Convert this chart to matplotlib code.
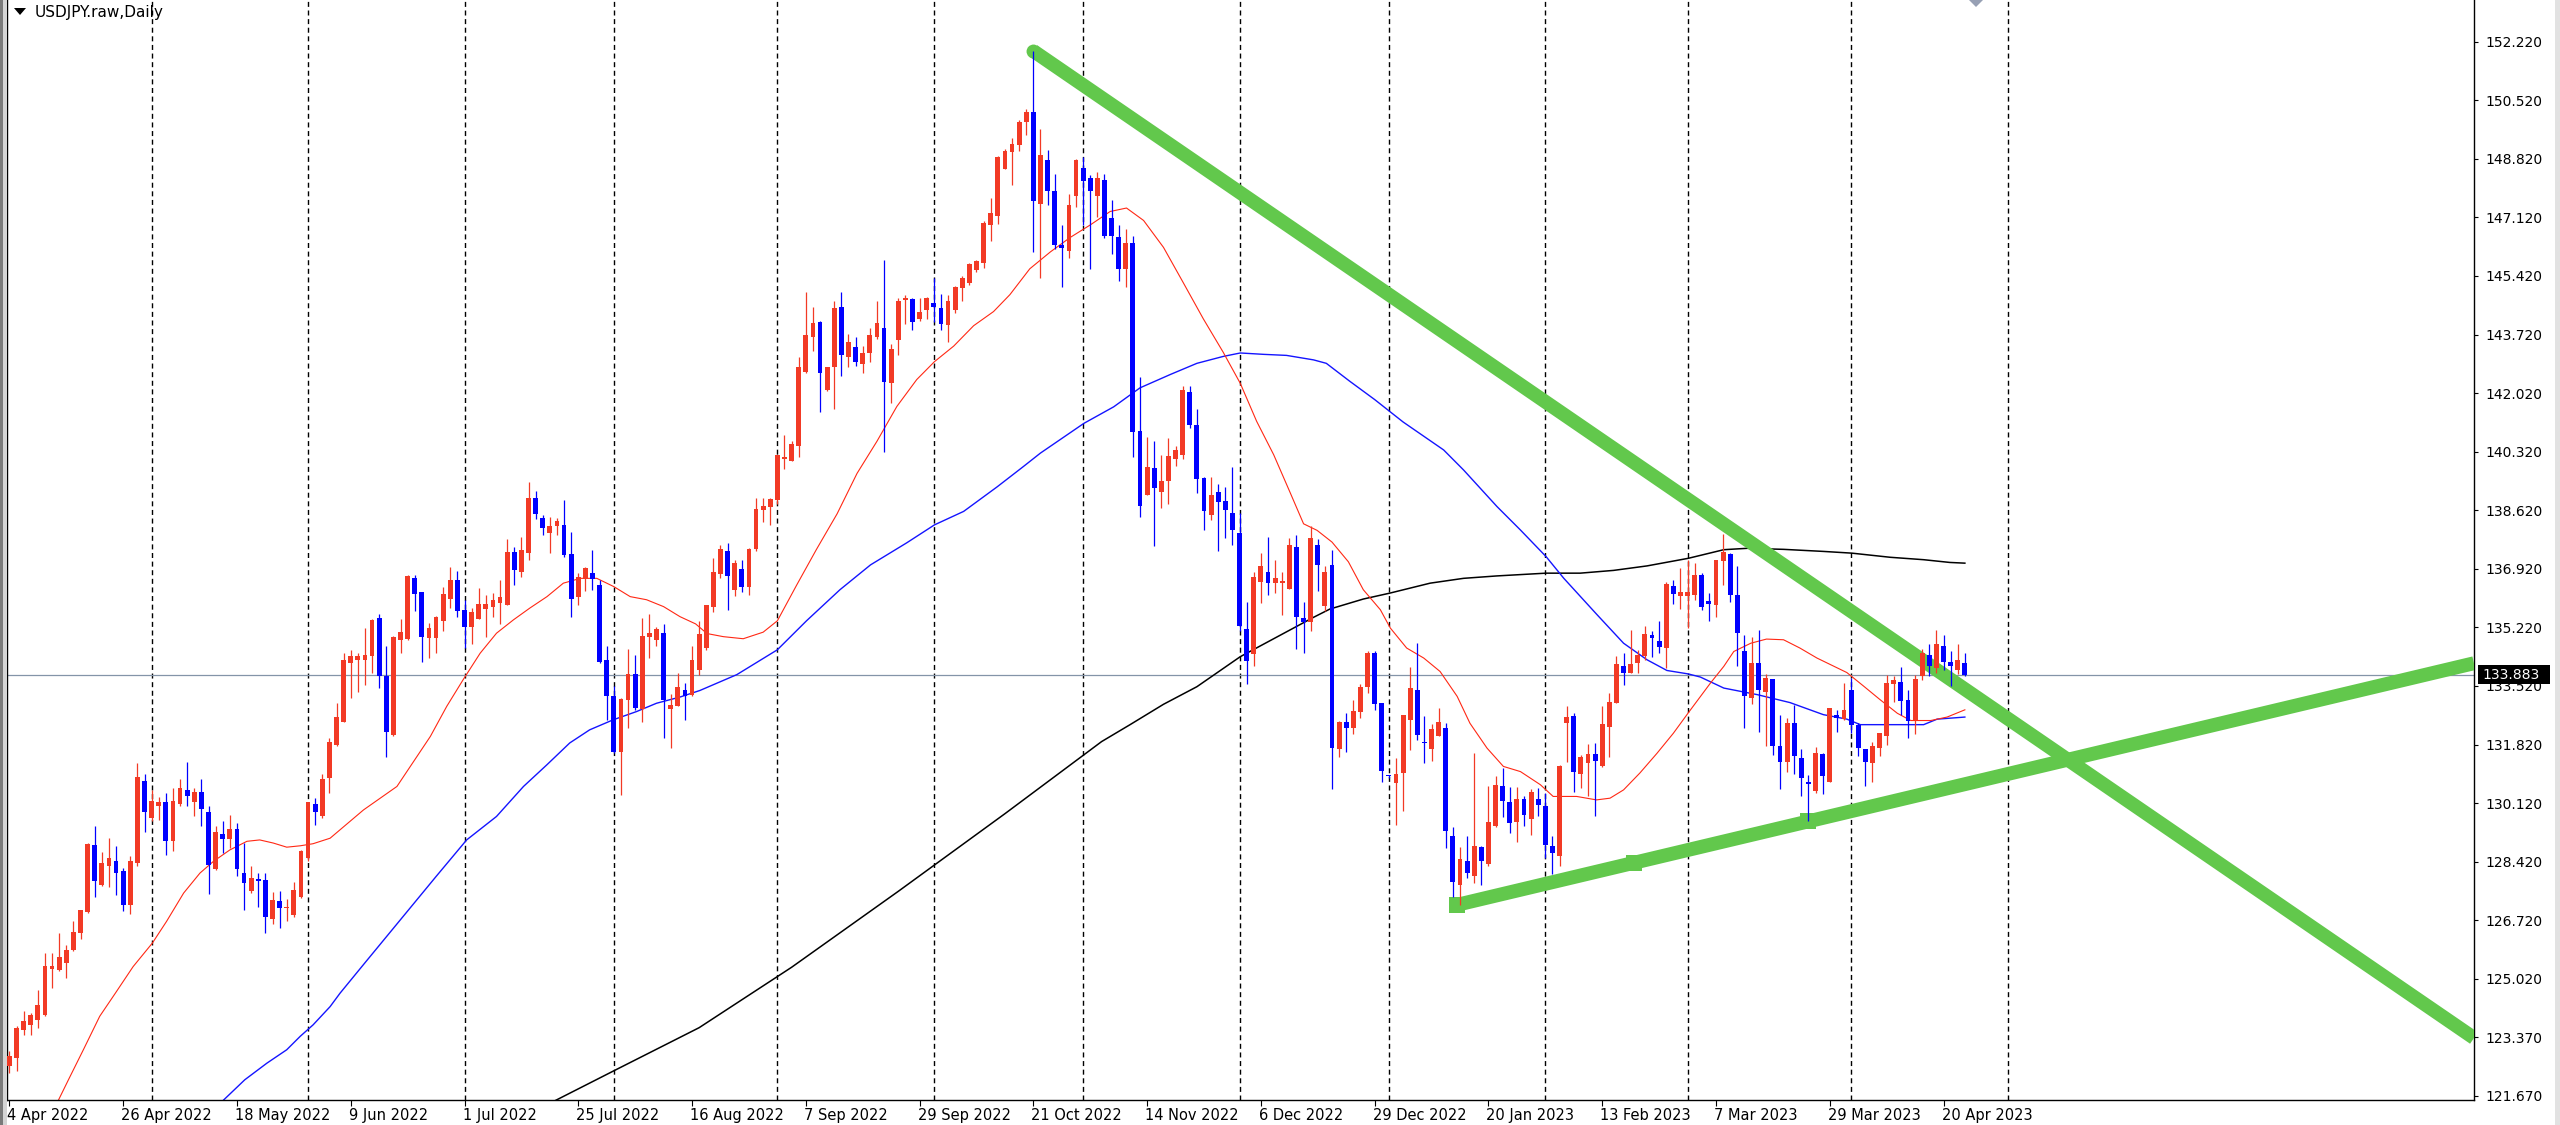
import numpy as np
import matplotlib.pyplot as plt
from matplotlib.patches import Rectangle, Polygon
from matplotlib.transforms import ScaledTranslation, blended_transform_factory

# USDJPY daily candles, 4 Apr 2022 -> 25 Apr 2023
opens = [
    122.53, 122.77, 123.59, 123.74, 123.88, 124.02, 125.35, 125.31, 125.52, 125.89,
    126.39, 126.99, 128.95, 127.79, 128.34, 128.49, 128.18, 127.21, 128.42, 130.81,
    129.72, 130.08, 130.18, 129.07, 130.14, 130.54, 130.18, 130.48, 129.91, 128.24,
    129.26, 129.11, 129.42, 128.13, 127.62, 127.96, 127.92, 126.80, 127.31, 127.11,
    126.92, 127.45, 128.56, 130.14, 129.79, 130.88, 131.85, 132.52, 134.21, 134.31,
    134.31, 134.41, 135.53, 133.85, 132.14, 134.89, 134.91, 136.67, 136.26, 134.94,
    134.94, 135.44, 136.07, 136.61, 135.74, 135.26, 135.49, 135.78, 135.85, 135.95,
    135.91, 137.43, 136.84, 137.40, 138.99, 138.41, 137.98, 138.19, 138.21, 137.38,
    136.12, 136.65, 136.82, 136.48, 134.29, 133.27, 131.63, 133.15, 133.89, 132.88,
    134.98, 134.89, 135.08, 132.88, 132.96, 133.42, 133.30, 134.00, 134.66, 135.83,
    136.80, 137.45, 136.34, 136.93, 136.41, 137.51, 138.65, 138.74, 138.93, 140.12,
    140.07, 140.51, 142.66, 143.66, 144.09, 142.13, 142.79, 144.54, 143.08, 143.36,
    142.88, 143.21, 143.66, 143.92, 142.33, 143.57, 144.74, 144.76, 144.18, 144.44,
    144.66, 144.50, 144.02, 144.44, 145.09, 145.22, 145.60, 145.80, 146.90, 147.16,
    148.54, 149.01, 149.23, 149.88, 150.18, 147.53, 148.78, 147.88, 146.33, 146.16,
    147.75, 148.56, 148.26, 147.75, 148.22, 147.10, 146.55, 145.64, 146.39, 140.94,
    139.09, 139.86, 139.16, 139.48, 140.13, 140.25, 142.06, 141.12, 139.57, 138.51,
    139.18, 138.90, 138.57, 137.99, 135.21, 134.48, 136.57, 136.85, 136.54, 136.54,
    136.37, 137.58, 135.51, 135.41, 137.63, 135.86, 137.05, 131.72, 132.52, 132.33,
    132.81, 133.52, 134.52, 133.07, 130.95, 130.74, 131.03, 132.57, 133.42, 131.94,
    131.72, 132.11, 132.33, 129.19, 127.79, 128.47, 128.05, 128.88, 128.40, 129.48,
    130.64, 130.18, 129.60, 130.27, 129.69, 130.27, 130.08, 128.92, 128.63, 132.47,
    132.69, 131.01, 131.32, 131.59, 131.24, 132.36, 133.07, 134.13, 133.94, 134.21,
    134.42, 135.03, 134.84, 134.65, 136.45, 136.16, 136.16, 136.19, 136.77, 136.00,
    135.90, 137.16, 137.38, 136.19, 134.55, 133.20, 134.23, 133.39, 133.75, 131.82,
    131.34, 132.49, 131.46, 130.78, 130.50, 131.59, 130.78, 132.72, 132.59, 133.42,
    132.43, 131.72, 131.32, 131.75, 132.11, 133.61, 133.68, 133.15, 132.57, 133.85,
    134.45, 134.07, 134.71, 134.26, 134.00, 134.23,
]
highs = [
    122.96, 123.69, 124.12, 124.07, 124.75, 125.81, 125.81, 126.39, 126.05, 126.73,
    127.05, 129.00, 129.48, 128.73, 129.16, 128.90, 128.27, 128.63, 131.33, 131.01,
    130.54, 130.33, 130.45, 130.59, 130.85, 131.36, 130.59, 130.85, 130.08, 129.50,
    129.65, 129.82, 129.58, 129.00, 128.32, 128.13, 128.13, 127.57, 127.60, 127.38,
    127.86, 128.80, 130.20, 130.30, 131.01, 132.04, 133.05, 134.50, 134.60, 134.50,
    135.23, 135.50, 135.64, 134.71, 134.99, 135.49, 136.77, 136.77, 136.26, 135.39,
    135.58, 136.41, 137.01, 136.87, 136.05, 135.81, 136.40, 136.18, 136.24, 136.61,
    137.80, 137.57, 137.88, 139.45, 139.19, 138.51, 138.44, 138.41, 138.94, 138.00,
    136.82, 137.01, 137.50, 136.63, 134.70, 133.56, 133.20, 134.62, 134.45, 135.52,
    135.64, 135.26, 135.35, 133.32, 133.92, 133.63, 134.70, 135.44, 135.89, 137.25,
    137.64, 137.70, 137.19, 137.19, 137.54, 139.00, 139.00, 139.00, 140.23, 140.81,
    140.64, 143.08, 144.98, 144.54, 144.14, 142.79, 144.70, 144.98, 143.74, 143.66,
    143.40, 143.92, 144.70, 145.89, 143.47, 144.79, 144.89, 144.80, 144.80, 144.83,
    145.38, 144.92, 144.89, 145.15, 145.44, 145.80, 145.90, 147.03, 147.70, 148.91,
    149.10, 149.43, 149.94, 150.27, 151.95, 149.69, 149.08, 148.39, 146.91, 147.81,
    148.82, 148.87, 148.35, 148.43, 148.39, 147.62, 146.91, 146.78, 146.58, 142.49,
    140.77, 140.64, 140.25, 140.73, 140.51, 142.23, 142.23, 141.58, 139.61, 139.61,
    139.39, 139.31, 139.90, 138.57, 135.99, 136.85, 137.41, 137.86, 137.21, 136.85,
    137.84, 137.93, 135.99, 138.19, 137.80, 137.02, 137.50, 132.55, 132.78, 133.15,
    133.61, 134.55, 134.55, 133.07, 130.98, 131.46, 132.72, 134.10, 134.81, 132.69,
    132.45, 132.91, 132.49, 129.46, 128.88, 129.19, 131.62, 128.92, 130.64, 130.95,
    131.17, 130.62, 130.62, 130.37, 130.56, 130.59, 130.45, 129.19, 131.27, 132.96,
    132.76, 131.56, 131.87, 131.91, 132.96, 133.36, 134.41, 134.52, 135.18, 134.58,
    135.28, 135.13, 135.42, 136.55, 136.61, 136.96, 137.20, 137.11, 136.82, 136.24,
    137.20, 137.96, 137.40, 137.03, 135.03, 134.97, 135.16, 133.90, 133.75, 132.72,
    132.62, 133.00, 131.72, 130.98, 131.78, 131.62, 132.91, 132.86, 133.63, 133.78,
    132.47, 131.72, 131.94, 132.18, 133.87, 133.83, 134.10, 133.42, 133.87, 134.62,
    134.76, 135.16, 135.03, 134.55, 134.76, 134.50,
]
lows = [
    122.33, 122.38, 123.45, 123.45, 123.64, 124.00, 124.80, 125.28, 125.09, 125.86,
    126.22, 126.97, 127.45, 127.76, 127.72, 127.50, 127.02, 126.95, 128.34, 129.31,
    129.63, 129.67, 128.66, 128.76, 130.06, 130.08, 129.79, 129.48, 127.52, 128.22,
    128.70, 128.85, 128.05, 127.07, 127.55, 127.16, 126.39, 126.66, 126.54, 126.73,
    126.87, 127.40, 128.47, 129.53, 129.72, 130.45, 131.80, 132.50, 133.20, 133.39,
    133.58, 133.92, 133.49, 131.48, 132.10, 134.52, 134.88, 135.71, 134.26, 134.36,
    134.52, 135.13, 135.81, 135.56, 134.65, 134.77, 135.49, 134.98, 135.56, 135.34,
    135.91, 136.48, 136.70, 137.19, 138.38, 137.93, 137.40, 137.93, 137.30, 135.56,
    135.90, 136.29, 136.34, 134.21, 132.57, 131.61, 130.40, 132.33, 132.86, 132.52,
    134.36, 134.70, 132.04, 131.75, 132.96, 132.57, 133.27, 133.88, 134.60, 135.70,
    136.67, 135.76, 136.15, 136.28, 136.19, 137.45, 138.29, 138.22, 138.81, 139.84,
    140.07, 140.20, 142.63, 143.27, 141.49, 142.11, 141.59, 142.52, 142.79, 142.82,
    142.63, 142.95, 143.60, 140.32, 141.76, 143.14, 144.05, 143.88, 144.14, 144.18,
    144.11, 143.88, 143.51, 144.37, 144.70, 145.18, 145.54, 145.67, 146.45, 146.94,
    148.52, 148.07, 149.06, 149.53, 146.12, 145.38, 147.49, 146.20, 145.10, 145.94,
    147.42, 146.91, 145.64, 147.14, 146.52, 146.07, 145.29, 145.12, 140.19, 138.44,
    139.09, 137.60, 138.70, 138.83, 139.93, 140.13, 141.03, 139.13, 138.06, 138.35,
    137.47, 137.84, 137.63, 135.15, 133.60, 134.12, 135.95, 136.18, 136.25, 135.60,
    136.37, 134.63, 134.50, 135.15, 136.29, 135.73, 130.56, 131.49, 131.65, 132.17,
    132.62, 133.34, 132.86, 130.76, 130.88, 129.53, 129.94, 131.70, 131.99, 131.33,
    131.39, 132.09, 128.85, 127.45, 127.21, 127.98, 127.84, 127.79, 128.34, 129.46,
    129.75, 129.29, 129.02, 129.50, 129.24, 129.77, 128.56, 128.11, 128.34, 131.36,
    130.49, 130.59, 130.35, 129.79, 131.20, 131.49, 133.07, 133.58, 133.92, 133.92,
    134.31, 134.39, 134.52, 134.07, 135.93, 135.78, 135.23, 136.03, 135.76, 135.42,
    135.56, 136.48, 135.97, 134.12, 132.33, 133.03, 132.23, 131.80, 131.56, 130.56,
    131.05, 131.00, 130.37, 129.65, 130.45, 130.43, 130.78, 132.23, 132.57, 132.19,
    131.53, 130.66, 130.78, 131.53, 131.85, 133.10, 132.71, 132.04, 132.17, 133.73,
    133.85, 133.94, 134.00, 133.54, 133.90, 133.85,
]
closes = [
    122.82, 123.64, 123.83, 124.02, 124.31, 125.44, 125.44, 125.70, 125.91, 126.41,
    127.05, 128.97, 127.89, 128.42, 128.56, 128.13, 127.21, 128.47, 130.91, 129.90,
    130.23, 130.18, 129.07, 130.23, 130.59, 130.35, 130.48, 129.98, 128.37, 129.31,
    129.11, 129.42, 128.24, 127.84, 127.98, 127.89, 126.85, 127.36, 127.11, 127.16,
    127.65, 128.76, 130.18, 129.89, 130.85, 131.94, 132.64, 134.31, 134.41, 134.41,
    134.45, 135.47, 133.85, 132.23, 134.97, 135.12, 136.74, 136.22, 134.98, 135.23,
    135.55, 136.21, 136.61, 135.71, 135.26, 135.68, 135.93, 135.93, 136.03, 136.14,
    137.43, 136.90, 137.48, 138.99, 138.54, 138.12, 138.19, 138.32, 137.35, 136.07,
    136.70, 136.96, 136.65, 134.26, 133.25, 131.63, 133.18, 133.89, 132.91, 135.00,
    135.08, 135.20, 133.15, 133.00, 133.52, 133.27, 134.31, 135.05, 135.89, 136.86,
    137.51, 136.73, 137.12, 136.41, 137.51, 138.68, 138.78, 138.96, 140.23, 140.20,
    140.55, 142.79, 143.73, 144.08, 142.63, 142.79, 144.50, 143.14, 143.51, 142.95,
    143.21, 143.73, 144.08, 142.37, 143.31, 144.72, 144.80, 144.11, 144.40, 144.79,
    144.53, 144.05, 144.72, 145.11, 145.38, 145.77, 145.86, 146.96, 147.25, 148.88,
    149.06, 149.26, 149.90, 150.18, 147.61, 148.95, 147.88, 146.33, 146.24, 147.49,
    148.78, 148.17, 147.88, 148.26, 146.58, 146.58, 145.64, 146.39, 140.90, 138.77,
    139.90, 139.28, 139.48, 140.21, 140.38, 142.13, 141.12, 139.54, 138.61, 139.09,
    138.87, 138.64, 138.06, 135.28, 134.27, 136.72, 137.02, 136.54, 136.67, 136.57,
    137.63, 135.56, 135.41, 137.84, 137.06, 136.85, 131.75, 132.52, 132.33, 132.84,
    133.52, 134.52, 133.03, 131.10, 130.94, 131.01, 132.72, 133.49, 132.14, 131.89,
    132.30, 132.52, 129.34, 127.86, 128.53, 128.13, 128.92, 128.47, 129.60, 130.69,
    130.21, 129.58, 130.27, 129.82, 130.49, 130.11, 128.95, 128.71, 131.22, 132.65,
    131.07, 131.49, 131.59, 131.39, 132.45, 133.10, 134.19, 133.94, 134.19, 134.45,
    135.06, 134.94, 134.68, 136.51, 136.22, 136.26, 136.26, 136.77, 135.85, 135.93,
    137.20, 137.42, 136.19, 135.08, 133.25, 134.23, 133.44, 133.78, 131.80, 131.34,
    132.49, 131.53, 130.88, 130.72, 131.62, 130.93, 132.91, 132.62, 132.86, 132.43,
    131.75, 131.34, 131.82, 132.18, 133.63, 133.73, 133.13, 132.55, 133.75, 134.50,
    134.12, 134.76, 134.26, 134.12, 134.29, 133.88,
]
last_price = 133.883

# moving averages (bar index, price)
fast_bars = [6.8, 8.3, 10.4, 12.7, 14.9, 17.4, 20.1, 22.1, 24.5, 26.8,
             28.7, 31.0, 33.4, 35.2, 37.1, 39.0, 40.9, 42.7, 45.1, 49.8,
             54.5, 59.2, 61.5, 63.8, 66.2, 68.5, 70.9, 73.2, 75.6, 77.9,
             80.3, 82.6, 85.0, 87.3, 89.6, 92.0, 94.3, 96.5, 98.1, 100.4,
             103.2, 106.0, 108.0, 110.7, 113.5, 116.4, 119.2, 122.0, 124.8, 127.6,
             130.1, 132.8, 135.6, 138.4, 140.7, 143.5, 146.4, 149.2, 152.0, 154.8,
             157.1, 159.5, 162.3, 165.1, 167.9, 170.7, 173.1, 175.4, 177.8, 180.1,
             182.0, 183.9, 186.0, 188.3, 190.4, 192.8, 194.2, 196.5, 198.9, 201.2,
             203.6, 205.4, 207.8, 210.1, 212.5, 215.3, 217.1, 220.4, 223.2, 225.1,
             227.0, 229.3, 231.7, 234.0, 236.2, 239.2, 241.1, 242.5, 244.9, 247.1,
             249.5, 251.8, 254.2, 256.6, 258.4, 260.8, 263.1, 265.5, 267.4, 270.2,
             272.5, 275.0]
fast_vals = [121.51, 122.14, 123.01, 123.98, 124.65, 125.42, 126.10, 126.73, 127.55, 128.13,
             128.47, 128.80, 129.05, 129.09, 129.00, 128.88, 128.92, 128.98, 129.14, 129.96,
             130.64, 132.09, 132.96, 133.73, 134.50, 135.08, 135.47, 135.81, 136.14, 136.53,
             136.67, 136.67, 136.43, 136.14, 136.05, 135.85, 135.56, 135.35, 135.07, 134.98,
             134.92, 135.11, 135.44, 136.47, 137.51, 138.54, 139.71, 140.64, 141.65, 142.43,
             142.95, 143.40, 143.99, 144.40, 144.89, 145.64, 146.13, 146.55, 146.91, 147.30,
             147.40, 147.04, 146.26, 145.23, 144.19, 143.22, 142.32, 141.22, 140.25, 139.16,
             138.25, 138.06, 137.72, 137.15, 136.34, 135.76, 135.23, 134.65, 134.36, 133.97,
             133.25, 132.47, 131.75, 131.22, 131.07, 130.69, 130.35, 130.35, 130.25, 130.30,
             130.54, 131.03, 131.60, 132.18, 132.80, 133.63, 134.12, 134.55, 134.79, 134.91,
             134.89, 134.65, 134.36, 134.12, 133.94, 133.54, 133.15, 132.76, 132.55, 132.55,
             132.65, 132.86]

slow_bars = [29.9, 33.1, 36.2, 39.0, 40.9, 42.7, 45.1, 46.5, 50.0, 55.0,
             60.0, 64.3, 68.5, 72.3, 75.6, 78.8, 81.6, 84.9, 88.2, 91.0,
             94.3, 97.1, 102.3, 108.0, 112.1, 116.8, 121.1, 126.2, 130.1, 134.2,
             138.9, 142.6, 145.0, 151.1, 155.3, 159.0, 163.3, 167.0, 170.7, 173.1,
             176.4, 179.6, 183.4, 185.2, 188.5, 192.0, 196.0, 201.7, 204.5, 209.2,
             212.5, 216.1, 218.6, 223.3, 227.0, 230.3, 233.1, 236.1, 237.8, 241.1,
             245.8, 250.4, 255.1, 258.4, 260.3, 264.5, 269.2, 271.1, 275.0]
slow_vals = [121.51, 122.14, 122.62, 123.01, 123.40, 123.73, 124.26, 124.65, 125.53, 126.78,
             128.03, 129.09, 129.77, 130.64, 131.27, 131.90, 132.28, 132.57, 132.81, 133.05,
             133.23, 133.42, 133.88, 134.60, 135.44, 136.34, 137.06, 137.70, 138.22, 138.61,
             139.32, 139.91, 140.30, 141.16, 141.64, 142.19, 142.58, 142.90, 143.10, 143.20,
             143.16, 143.13, 143.00, 142.90, 142.38, 141.85, 141.20, 140.39, 139.81, 138.75,
             138.07, 137.30, 136.67, 135.61, 134.79, 134.31, 134.00, 133.90, 133.81, 133.49,
             133.30, 133.07, 132.72, 132.59, 132.43, 132.43, 132.43, 132.59, 132.65]

long_bars = [76.5, 85.0, 97.0, 110.0, 125.0, 140.0, 153.6, 157.6, 162.3, 167.0,
             173.1, 178.7, 183.4, 185.7, 190.4, 194.1, 199.8, 204.5, 209.2, 216.1,
             220.9, 225.6, 230.3, 236.1, 241.1, 244.4, 249.5, 255.1, 259.1, 264.5,
             269.2, 272.9, 275.0]
long_vals = [121.51, 122.40, 123.65, 125.40, 127.60, 129.85, 131.94, 132.43, 133.02, 133.53,
             134.40, 135.02, 135.54, 135.78, 136.07, 136.24, 136.53, 136.67, 136.74, 136.82,
             136.82, 136.90, 137.03, 137.25, 137.50, 137.54, 137.51, 137.45, 137.40, 137.28,
             137.21, 137.13, 137.11]

# hand drawn trend lines (start anchor -> where they hit the price scale)
down_bars = [144, 346.6]
down_vals = [151.95, 123.35]
up_bars = [203.6, 346.6]
up_vals = [127.21, 134.21]
up_anchor_bars = [203.6, 228.4, 253.0]
up_anchor_vals = [127.21, 128.42, 129.65]

# axis labels
date_bars = list(range(0, 273, 16))
date_labels = ['4 Apr 2022', '26 Apr 2022', '18 May 2022', '9 Jun 2022', '1 Jul 2022',
               '25 Jul 2022', '16 Aug 2022', '7 Sep 2022', '29 Sep 2022', '21 Oct 2022',
               '14 Nov 2022', '6 Dec 2022', '29 Dec 2022', '20 Jan 2023', '13 Feb 2023',
               '7 Mar 2023', '29 Mar 2023', '20 Apr 2023']
month_bars = [20, 42, 64, 85, 108, 130, 151, 173, 194, 216, 236, 259, 281]
price_labels = ['152.220', '150.520', '148.820', '147.120', '145.420', '143.720', '142.020',
                '140.320', '138.620', '136.920', '135.220', '133.520', '131.820', '130.120',
                '128.420', '126.720', '125.020', '123.370', '121.670']

BULL = '#f23a25'
BEAR = '#0000ff'
GREEN = '#62c84c'

W, H = 2560, 1125
fig = plt.figure(figsize=(W / 100, H / 100), dpi=100)
fig.patch.set_facecolor('white')
ax = fig.add_axes([7 / W, 25 / H, (2474 - 7) / W, 1100 / H])
ax.set_xlim(-0.34, 346.6)
ax.set_ylim(121.554, 153.428)

# month separators
for b in month_bars:
    ax.axvline(b, color='black', lw=1.0, ls=(0, (3.6, 2.6)), zorder=0)

ax.axhline(last_price, color='#8494a8', lw=0.9, zorder=1)

# moving averages
ax.plot(long_bars, long_vals, color='black', lw=1.1, zorder=2)
ax.plot(slow_bars, slow_vals, color='#1414ff', lw=1.0, zorder=2)
ax.plot(fast_bars, fast_vals, color='#ff2814', lw=0.8, zorder=2)

# trend lines
ax.plot(down_bars, down_vals, color=GREEN, lw=10, solid_capstyle='butt', zorder=3)
ax.plot(up_bars, up_vals, color=GREEN, lw=10, solid_capstyle='butt', zorder=3)
ax.plot([down_bars[0]], [down_vals[0]], 'o', color=GREEN, ms=10, mew=0, zorder=3)
ax.plot(up_anchor_bars, up_anchor_vals, 's', color=GREEN, ms=11, mew=0, zorder=3)

# candles
o = np.array(opens)
h = np.array(highs)
l = np.array(lows)
c = np.array(closes)
x = np.arange(len(c))
cols = np.where(c >= o, BULL, BEAR)
ax.vlines(x, l, h, colors=cols, lw=0.9, zorder=5)
ax.bar(x, np.maximum(np.abs(c - o), 0.04), bottom=np.minimum(o, c), width=0.68,
       color=cols, lw=0, zorder=6)

# axes styling (MT5 look)
for s in ['left', 'bottom', 'right']:
    ax.spines[s].set_color('black')
    ax.spines[s].set_linewidth(1.0)
ax.spines['top'].set_visible(False)

ax.yaxis.tick_right()
ax.set_yticks(np.linspace(152.22, 121.67, 19), price_labels)
ax.tick_params(axis='y', direction='out', length=3, width=0.8, pad=5, labelsize=10,
               colors='black')
ax.set_xticks(date_bars, date_labels)
ax.tick_params(axis='x', direction='out', length=4, width=0.8, pad=1.5, labelsize=10.5,
               colors='black')
shift = ScaledTranslation(-2 / 100, 0, fig.dpi_scale_trans)
for lbl in ax.get_xticklabels():
    lbl.set_ha('left')
    lbl.set_transform(lbl.get_transform() + shift)

# current price box on the scale
trans = blended_transform_factory(ax.transAxes, ax.transData)
box_h = 18.5 / 34.52
ax.add_patch(Rectangle((1 + 4 / 2467, last_price - box_h / 2), 72 / 2467, box_h,
                       transform=trans, fc='black', ec='none', clip_on=False, zorder=10))
ax.text(1 + 8 / 2467, last_price, f'{last_price:.3f}', transform=trans, ha='left',
        va='center', color='white', fontsize=10, zorder=11, clip_on=False)

# window frame and header
fig.add_artist(Rectangle((0, 0), 3 / W, 1, transform=fig.transFigure, fc='#7a7a7a', ec='none'))
fig.add_artist(Rectangle((3 / W, 0), 4 / W, 1, transform=fig.transFigure, fc='#d4d4d4', ec='none'))
fig.add_artist(Rectangle((2555 / W, 0), 5 / W, 1, transform=fig.transFigure, fc='#e2e2e2', ec='none'))
fig.add_artist(Polygon([(14 / W, 1 - 8 / H), (26 / W, 1 - 8 / H), (20 / W, 1 - 15 / H)],
                       closed=True, transform=fig.transFigure, fc='black', ec='none'))
fig.text(35 / W, 1 - 12 / H, 'USDJPY.raw,Daily', fontsize=11, ha='left', va='center')
fig.add_artist(Polygon([(1969 / W, 1), (1983 / W, 1), (1976 / W, 1 - 7 / H)],
                       closed=True, transform=fig.transFigure, fc='#97a0b4', ec='none'))

fig.savefig('out.png', dpi=100)
